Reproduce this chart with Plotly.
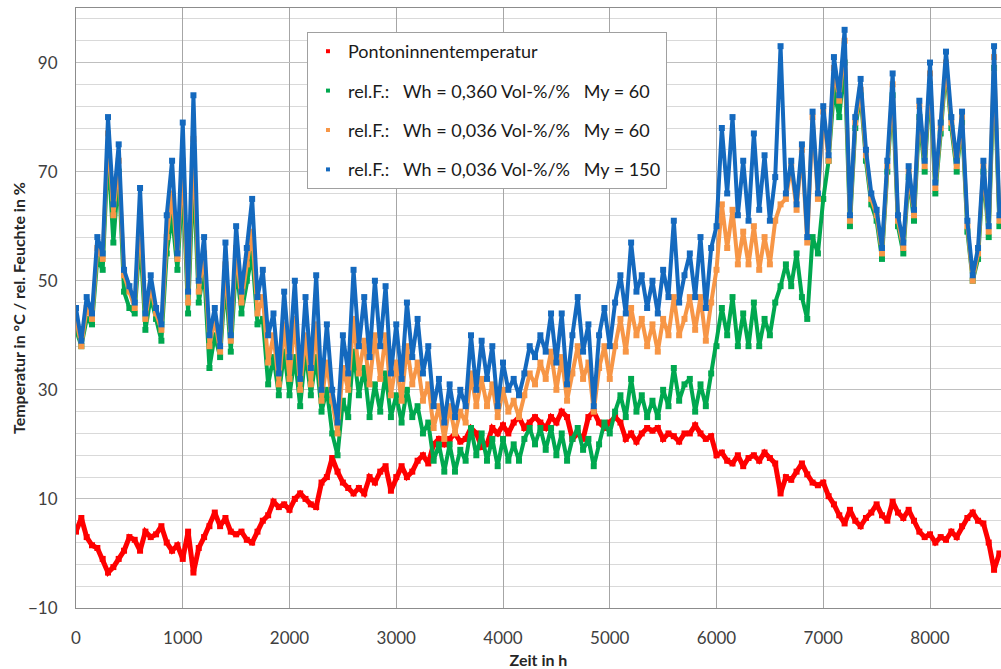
import plotly.graph_objects as go

# hours (one reading every 50 h)
hours = list(range(0, 8700, 50))

temp_ponton = [
    4, 6.5, 3, 1.5, 1, -1, -3.5, -2.5, -1, 0.5,
    3, 2.5, 0.5, 4, 3, 3.5, 5, 2, 0.5, 1.5,
    -1, 4, -3.5, 1, 3, 5, 7.5, 5, 6.5, 4,
    3.5, 4, 2.5, 2, 4, 6, 7, 9.5, 8.5, 9,
    8, 10, 11, 10, 9, 8.5, 13, 14, 17.5, 15,
    13, 12, 11, 12, 11, 14, 13, 15, 16, 11.5,
    14, 16, 14, 15, 17, 18, 16.5, 20, 21, 20,
    21, 22, 20.5, 21, 23, 22, 19.5, 20, 23, 22,
    23.5, 22, 24, 25, 23, 24, 25, 24, 23, 25,
    24, 26, 25, 21, 22, 21, 25, 26, 24, 23,
    24, 25, 24, 21, 22, 20.5, 22, 23, 22.5, 23,
    21, 22, 21.5, 20.5, 22, 22, 23.5, 22, 21, 21.5,
    18, 18.5, 17, 16.5, 18, 16, 17.5, 18, 17, 18.5,
    17.5, 16.5, 11, 14, 13.5, 15, 16.5, 14.5, 13, 12.5,
    13, 10.5, 9, 7, 5.5, 8, 6, 5, 6.5, 7.5,
    9, 7, 6, 9.5, 7.5, 6.5, 8, 6, 4, 3,
    3.5, 2, 3, 2.5, 4, 3, 5, 6.5, 7.5, 6,
    5.5, 2, -3, 0,
]

rf_wh0360_my60 = [
    41, 38, 43, 42, 54, 52, 74, 57, 70, 48,
    45, 44, 58, 41, 47, 43, 39, 55, 62, 52,
    68, 44, 70, 46, 52, 34, 40, 36, 50, 37,
    53, 44, 50, 55, 42, 43, 31, 36, 29, 37,
    29, 36, 27, 37, 29, 36, 26, 30, 22, 18,
    28, 25, 37, 29, 34, 25, 31, 26, 33, 25,
    29, 24, 30, 25, 27, 22, 24, 17, 20, 15,
    20, 15, 19, 17, 23, 18, 22, 17, 21, 16,
    21, 17, 20, 17, 21, 23, 20, 23, 19, 23,
    18, 22, 17, 21, 23, 19, 21, 16, 20, 24,
    22, 26, 29, 25, 32, 26, 29, 25, 28, 25,
    30, 27, 34, 28, 31, 32, 26, 31, 27, 33,
    38, 45, 40, 47, 38, 44, 38, 46, 38, 43,
    40, 46, 49, 53, 49, 55, 47, 43, 58, 55,
    65, 72, 85, 80, 90, 60, 78, 84, 72, 64,
    61, 54, 70, 84, 60, 55, 69, 61, 80, 70,
    86, 66, 77, 89, 78, 70, 79, 59, 50, 54,
    70, 58, 89, 60,
]

rf_wh0036_my60 = [
    43, 38, 45, 43, 56, 54, 77, 62, 72, 51,
    48, 45, 62, 43, 49, 44, 41, 58, 66, 54,
    72, 46, 76, 48, 55, 38, 43, 37, 53, 39,
    56, 46, 53, 59, 44, 47, 35, 40, 31, 42,
    32, 43, 30, 40, 31, 42, 28, 35, 28, 22,
    34, 30, 43, 33, 39, 31, 40, 32, 40, 29,
    35, 28, 38, 31, 35, 28, 31, 23, 27, 21,
    27, 22, 26, 24, 33, 27, 32, 27, 31, 25,
    30, 26, 28, 25, 29, 33, 31, 35, 32, 37,
    30, 36, 28, 33, 38, 32, 35, 26, 34, 38,
    32, 38, 43, 37, 45, 40, 43, 38, 42, 37,
    43, 40, 47, 40, 43, 47, 41, 47, 39, 46,
    52, 64, 56, 63, 53, 59, 53, 60, 52, 58,
    53, 61, 64, 65, 71, 63, 74, 57, 80, 65,
    81, 72, 89, 83, 94, 61, 79, 85, 73, 65,
    62, 55, 71, 86, 61, 56, 70, 62, 82, 71,
    88, 67, 78, 90, 79, 71, 80, 60, 50, 55,
    71, 59, 91, 61,
]

rf_wh0036_my150 = [
    45, 39, 47, 44, 58, 55, 80, 64, 75, 52,
    49, 46, 67, 44, 51, 45, 42, 62, 72, 55,
    79, 48, 84, 50, 58, 40, 45, 38, 57, 40,
    60, 48, 56, 65, 47, 52, 40, 44, 33, 48,
    36, 50, 32, 47, 34, 51, 30, 42, 30, 24,
    40, 33, 52, 38, 47, 36, 50, 38, 49, 33,
    42, 32, 46, 36, 43, 33, 38, 27, 32, 24,
    31, 25, 30, 27, 40, 30, 39, 32, 38, 27,
    35, 30, 32, 29, 33, 38, 36, 40, 37, 44,
    35, 44, 31, 40, 47, 37, 42, 27, 40, 45,
    38, 46, 51, 44, 57, 48, 51, 45, 50, 44,
    52, 47, 61, 46, 51, 55, 47, 58, 45, 56,
    60, 78, 66, 80, 62, 72, 61, 77, 63, 73,
    61, 69, 93, 66, 72, 64, 75, 58, 81, 66,
    82, 73, 91, 84, 96, 62, 80, 87, 74, 66,
    63, 56, 72, 88, 62, 57, 71, 63, 83, 72,
    90, 68, 79, 92, 80, 72, 81, 61, 51, 56,
    72, 60, 93, 62,
]

NB = "\u00a0"
names = [
    "Pontoninnentemperatur",
    "rel.F.:" + NB * 3 + "Wh = 0,360 Vol-%/%" + NB * 3 + "My = 60",
    "rel.F.:" + NB * 3 + "Wh = 0,036 Vol-%/%" + NB * 3 + "My = 60",
    "rel.F.:" + NB * 3 + "Wh = 0,036 Vol-%/%" + NB * 3 + "My = 150",
]
colors = ["#FF0000", "#00A84F", "#F79646", "#1469BE"]
series = [temp_ponton, rf_wh0360_my60, rf_wh0036_my60, rf_wh0036_my150]

fig = go.Figure()
for vals, col, nm in zip(series, colors, names):
    lw = 5 if col == "#FF0000" else 4
    fig.add_trace(go.Scatter(
        x=hours, y=vals, mode="lines+markers",
        line=dict(color=col, width=lw),
        marker=dict(color=col, size=6, symbol="square"),
        showlegend=False, hoverinfo="skip",
    ))

# legend entries (small square markers like the original)
for col, nm in zip(colors, names):
    fig.add_trace(go.Scatter(
        x=[None], y=[None], mode="markers", name=nm, legendgroup=nm,
        marker=dict(color=col, size=4, symbol="square"),
    ))

axis_font = dict(family="Lato", size=17, color="#404040")
title_font = dict(family="Lato", size=16, color="#262626", weight="bold")

fig.update_layout(
    width=1001, height=669,
    margin=dict(l=76, r=0, t=8, b=61),
    paper_bgcolor="white", plot_bgcolor="white",
    font=dict(family="Lato"),
    xaxis=dict(
        range=[0, 8665], tick0=0, dtick=1000, automargin=False,
        showgrid=True, gridcolor="#a6a6a6", gridwidth=1,
        showline=True, linecolor="#8c8c8c", linewidth=1, mirror=True,
        zeroline=False, ticks="", tickfont=axis_font,
        ticklabelstandoff=15,
        title=dict(text="Zeit in h", font=title_font, standoff=11),
    ),
    yaxis=dict(
        range=[-10, 100], tick0=-10, dtick=20, automargin=False,
        showgrid=True, gridcolor="#bfbfbf", gridwidth=1,
        minor=dict(tick0=-10, dtick=4, showgrid=True, gridcolor="#d9d9d9", gridwidth=1),
        showline=True, linecolor="#8c8c8c", linewidth=1,
        zeroline=False, ticks="", tickfont=axis_font,
        ticklabelstandoff=14,
    ),
    legend=dict(
        x=0.2497, y=0.96, xanchor="left", yanchor="top",
        bgcolor="white", bordercolor="#a0a0a0", borderwidth=1,
        font=dict(family="Lato", size=18, color="#1a1a1a"),
        traceorder="grouped", tracegroupgap=13, itemsizing="trace",
    ),
)

fig.add_annotation(
    text="Temperatur in °C / rel. Feuchte in %", textangle=-90,
    xref="paper", yref="paper", x=-0.0627, y=0.5,
    xanchor="center", yanchor="middle", showarrow=False, font=title_font,
)

# drop the default page margin so the figure sits at the window's corner
fig.write_html("out.html", config={"displayModeBar": False},
               post_script="document.body.style.margin='0';")
